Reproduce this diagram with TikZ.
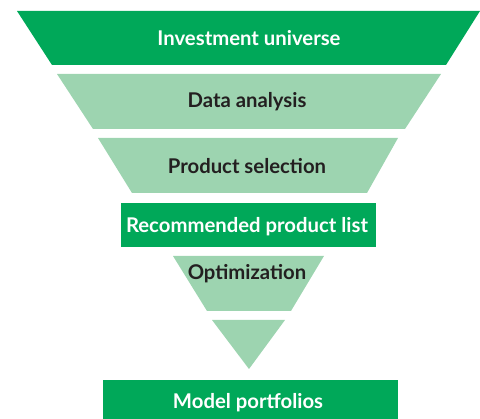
\documentclass[tikz,border=0pt]{standalone}
\usepackage{fontspec}
\setmainfont{Lato}
\definecolor{fundark}{RGB}{0,168,89}
\definecolor{funlight}{RGB}{157,212,176}
\definecolor{funtext}{RGB}{35,31,32}
\begin{document}
\begin{tikzpicture}[x=1pt,y=-1pt,
    dark/.style={fill=fundark},
    light/.style={fill=funlight},
    wlabel/.style={text=white,font=\bfseries\fontsize{20.3}{24}\selectfont},
    blabel/.style={text=funtext,font=\bfseries\fontsize{20.3}{24}\selectfont}]
  \useasboundingbox (0,0) rectangle (480,419);
  % funnel
  \fill[dark]  (17,11) -- (480,11) -- (446,65) -- (52,65) -- cycle;
  \fill[light] (57,74) -- (441,74) -- (405,129) -- (93,129) -- cycle;
  \fill[light] (98,138) -- (398,138) -- (367,193) -- (132,193) -- cycle;
  \fill[dark]  (121,203) rectangle (376,247);
  \fill[light] (173,256) -- (324,256) -- (291,311) -- (207,311) -- cycle;
  \fill[light] (212,320) -- (285,320) -- (249,369) -- cycle;
  \fill[dark]  (103,380) rectangle (398,419);
  % labels
  \node[wlabel] (universe) at (249,38) {Investment universe};
  \node[blabel] (analysis) at (247,102) {Data analysis};
  \node[blabel] (selection) at (247,166) {Product selection};
  \node[wlabel] (list) at (247,227) {Recommended product list};
  \node[blabel] (optim) at (247,274) {Optimization};
  \node[wlabel] (portfolios) at (248,403) {Model portfolios};
\end{tikzpicture}
\end{document}
